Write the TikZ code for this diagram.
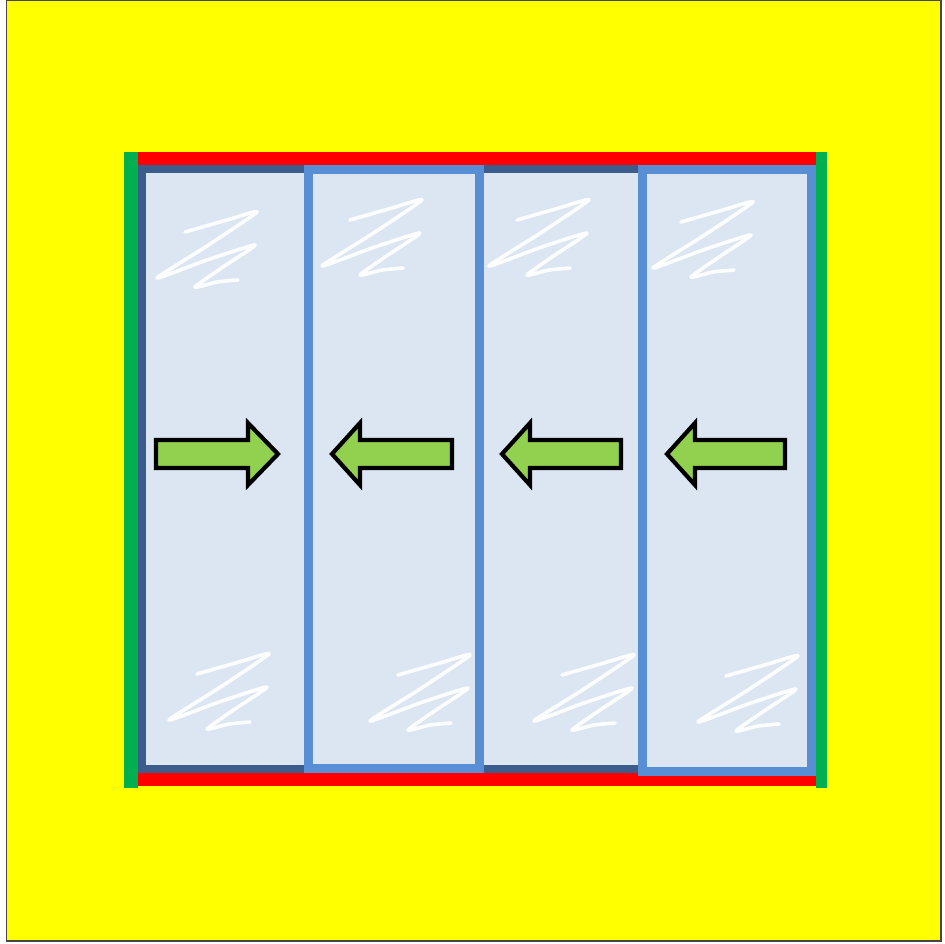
\documentclass[tikz,border=0pt]{standalone}
\usepackage{tikz}
\definecolor{bgyellow}{RGB}{255,255,0}
\definecolor{barred}{RGB}{255,0,0}
\definecolor{bargreen}{RGB}{0,176,80}
\definecolor{darkframe}{RGB}{60,92,140}
\definecolor{lightframe}{RGB}{88,142,212}
\definecolor{glassfill}{RGB}{220,230,242}
\definecolor{arrowgreen}{RGB}{146,208,80}
\definecolor{outerline}{RGB}{70,70,70}
\tikzset{
  darkpanel/.style={draw=darkframe, fill=glassfill, line width=8pt},
  lightpanel/.style={draw=lightframe, fill=glassfill, line width=9pt},
  zigline/.style={draw=white, draw opacity=0.92, line width=3.6pt, line cap=round, line join=round},
  slidearrow/.style={draw=black, fill=arrowgreen, line width=4.2pt, line join=miter},
}
\begin{document}
\begin{tikzpicture}[x=1pt,y=-1pt]
\useasboundingbox (0,0) rectangle (945,944);
\fill[white] (0,0) rectangle (945,944);
% background
\draw[fill=bgyellow, draw=outerline, line width=1.5pt] (6.5,0.5) rectangle (941,941);
% green side bars
\fill[bargreen] (124,152) rectangle (138,788);
\fill[bargreen] (816,152) rectangle (827,788);
% red rails
\fill[barred] (138,152) rectangle (816,165);
\fill[barred] (138,773) rectangle (816,786);
% dark panels (behind)
\draw[darkpanel] (142,169) rectangle (312,769);
\draw[darkpanel] (478,169) rectangle (648,769);
% light panels (front)
\draw[lightpanel] (308.5,169.5) rectangle (479.5,768.5);
\draw[lightpanel] (642.5,169.5) rectangle (811.5,771.5);
% zigzag glass marks
\foreach \zx/\zy in {157/212, 322/200, 489/200, 653/202, 169/654, 370/655, 534/655, 698/656}{
  \draw[zigline, shift={(\zx,\zy)}] plot[smooth, tension=0.35] coordinates {(28,20) (70,8) (100,0) (50,34) (0,66) (50,48) (98,33) (66,55) (38,75) (60,70) (81,68)};
}
% arrows
\draw[slidearrow] (156,440) -- (248,440) -- (248,423) -- (278,454) -- (248,485) -- (248,468) -- (156,468) -- cycle;
\draw[slidearrow] (452,440) -- (360,440) -- (360,423) -- (332,454) -- (360,485) -- (360,468) -- (452,468) -- cycle;
\draw[slidearrow] (621,440) -- (530,440) -- (530,423) -- (502,454) -- (530,485) -- (530,468) -- (621,468) -- cycle;
\draw[slidearrow] (785,440) -- (695,440) -- (695,423) -- (667,454) -- (695,485) -- (695,468) -- (785,468) -- cycle;
\end{tikzpicture}
\end{document}
